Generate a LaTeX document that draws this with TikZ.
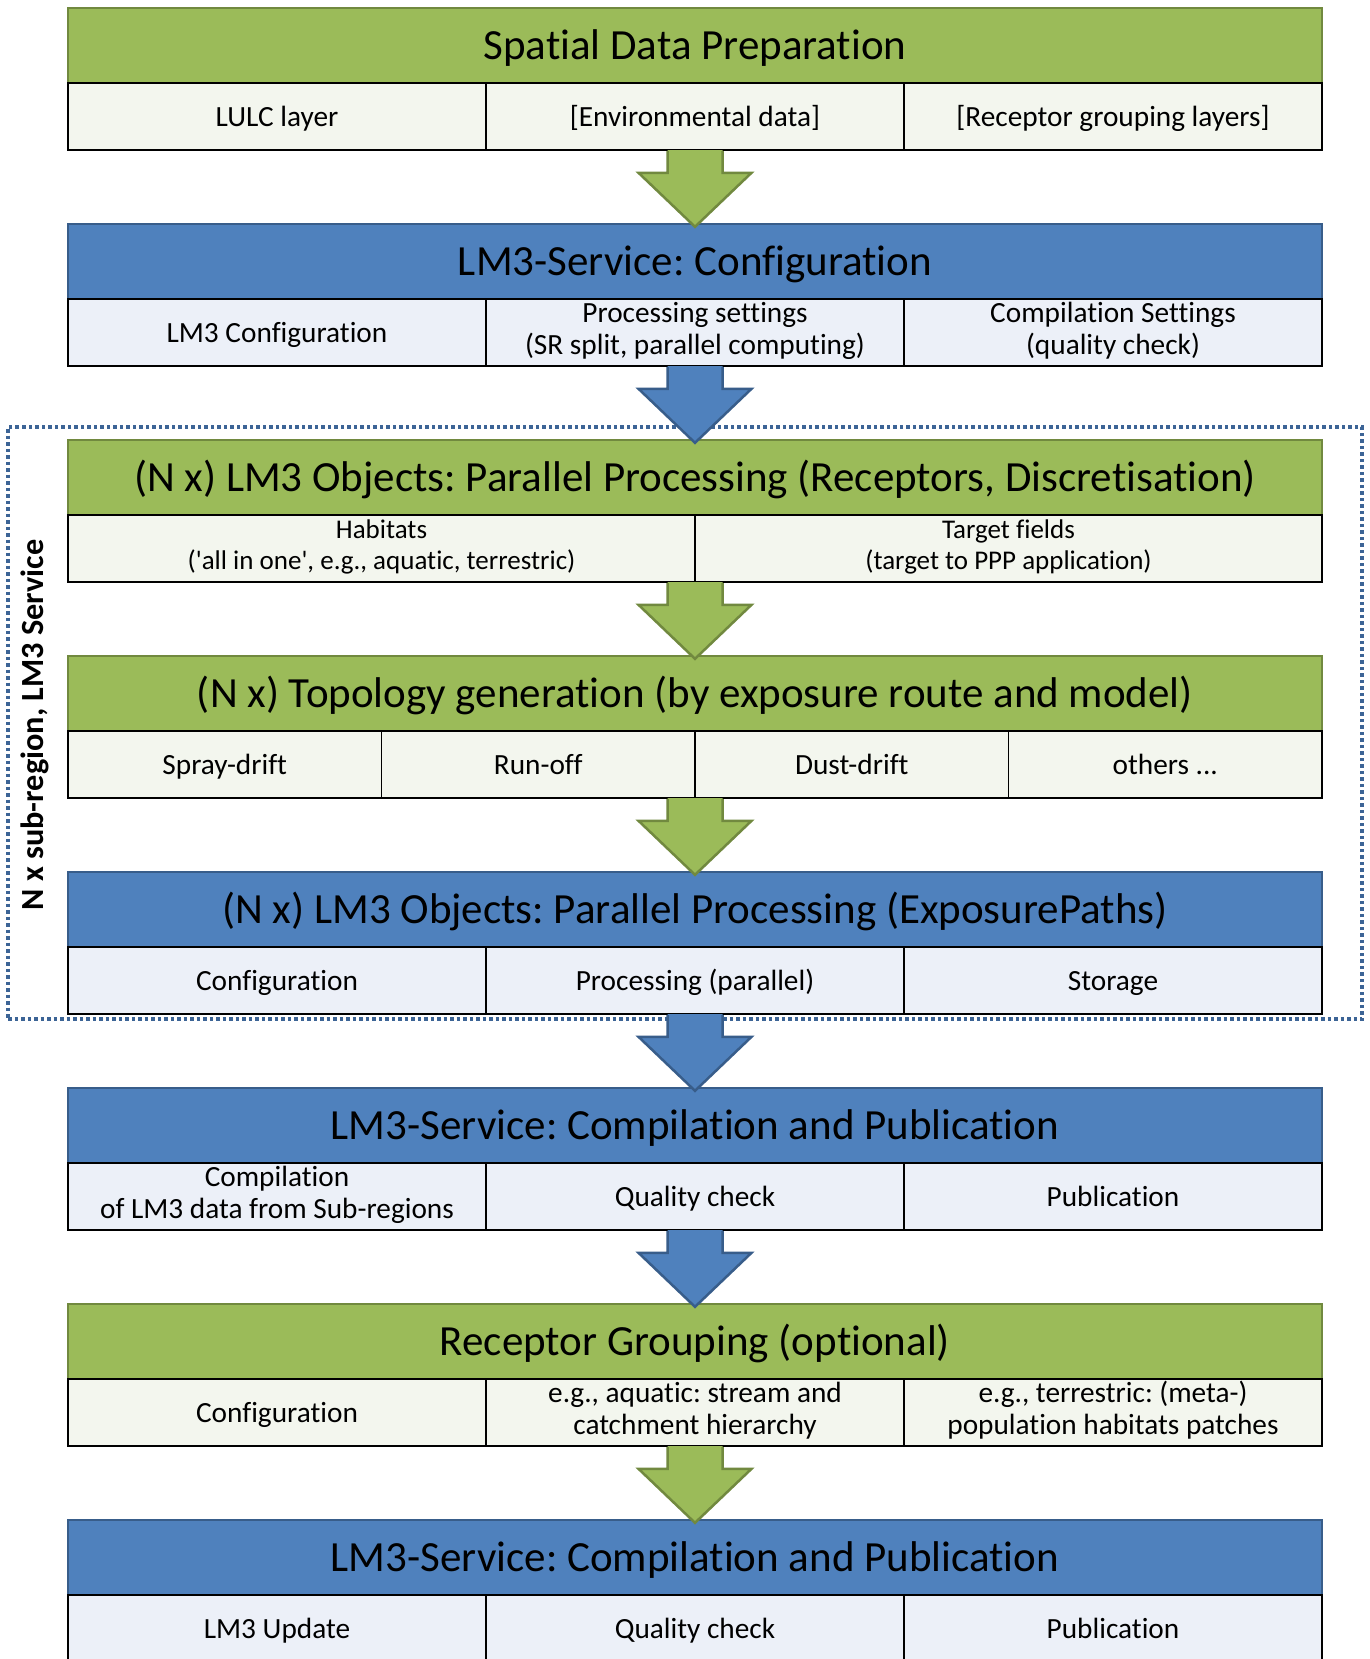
\documentclass[tikz,border=0pt]{standalone}
\usepackage{fontspec}
\setmainfont{Carlito}[Ligatures={NoCommon,TeXOff}]
\usetikzlibrary{calc}

\definecolor{grn}{HTML}{9BBB59}
\definecolor{grnline}{HTML}{71893F}
\definecolor{blu}{HTML}{4F81BD}
\definecolor{bluline}{HTML}{385D8A}
\definecolor{gcellfill}{HTML}{F3F6EE}
\definecolor{bcellfill}{HTML}{ECF0F8}
\definecolor{framecol}{HTML}{3C6496}

\newcommand\headsize{\fontsize{43}{49}\selectfont}
\newcommand\cellsize{\fontsize{29.3}{32}\selectfont}
\newcommand\smallcellsize{\fontsize{27}{30.5}\selectfont}
% strut reaching 0.3em below the baseline and 0.3em above the capitals,
% so that the capital letters sit centred in their box
\newcommand\capstrut{\rule[-0.3em]{0pt}{1.27em}}
% taller opening strut for two-line cells, which lowers the pair of lines
\newcommand\pairstrut{\rule[-0.3em]{0pt}{\dimexpr 1.27em+10pt\relax}}

% block arrow from the bottom of one block to the top of the next
\newcommand\flowarrow[4]{%
  \fill[#3] let \p1=(#1.south), \p2=(#2.north) in
    (\x1-27.5pt,\y1) -- (\x1-27.5pt,\y2+51pt) -- (\x1-56.5pt,\y2+51pt)
    -- (\x1,\y2-3pt) -- (\x1+56.5pt,\y2+51pt) -- (\x1+27.5pt,\y2+51pt)
    -- (\x1+27.5pt,\y1) -- cycle;
  \draw[#4, line width=2.5pt, line join=miter] let \p1=(#1.south), \p2=(#2.north) in
    (\x1-27.5pt,\y1-1pt) -- (\x1-27.5pt,\y2+51pt) -- (\x1-56.5pt,\y2+51pt)
    -- (\x1,\y2-3pt) -- (\x1+56.5pt,\y2+51pt) -- (\x1+27.5pt,\y2+51pt)
    -- (\x1+27.5pt,\y1-1pt);
}

\tikzset{
  blockframe/.style={minimum width=1254pt, minimum height=142pt, inner sep=0pt},
  head/.style={minimum width=1254pt, minimum height=75pt, inner sep=0pt,
    line width=2.5pt, font=\headsize\frenchspacing,
    execute at begin node=\capstrut, execute at end node=\capstrut},
  greenhead/.style={head, draw=grnline, fill=grn},
  bluehead/.style={head, draw=bluline, fill=blu},
  cell/.style={minimum height=67pt, inner sep=0pt, draw=black, line width=1.8pt,
    align=center, font=\cellsize\frenchspacing,
    execute at begin node=\capstrut, execute at end node=\capstrut},
  twoline/.style={execute at begin node=\pairstrut},
  gcell/.style={cell, fill=gcellfill},
  bcell/.style={cell, fill=bcellfill},
  third/.style={minimum width=418pt},
  half/.style={minimum width=627pt},
  quarter/.style={minimum width=313.5pt},
  subframe/.style={draw=framecol, line width=3.5pt, dash pattern=on 3.5pt off 3pt,
    minimum width=1354pt, minimum height=592pt, inner sep=0pt},
}

\begin{document}
\begin{tikzpicture}[x=1pt, y=-1pt]
\useasboundingbox (0,0) rectangle (1370,1659);
\clip (0,0) rectangle (1370,1659);
\fill[white] (0,0) rectangle (1370,1659);

% sub-region frame
\node[subframe] (subregion) at (685,723) {};
\node[rotate=90, font=\bfseries\fontsize{32.3}{36}\selectfont] (sidelabel) at (35,725)
  {N x sub-region, LM3 Service};

% block 1: spatial data preparation
\node[blockframe] (blk1) at (695,79) {};
\node[greenhead] (h1) at (695,45.5) {Spatial Data Preparation};
\node[gcell, third] (c11) at (277,116.5) {LULC layer};
\node[gcell, third] (c12) at (695,116.5) {[Environmental data]};
\node[gcell, third] (c13) at (1113,116.5) {[Receptor grouping layers]};

% block 2: configuration
\node[blockframe] (blk2) at (695,295) {};
\node[bluehead] (h2) at (695,261.5) {LM3-Service: Configuration};
\node[bcell, third] (c21) at (277,332.5) {LM3 Configuration};
\node[bcell, third, twoline] (c22) at (695,332.5) {Processing settings\\(SR split, parallel computing)};
\node[bcell, third, twoline] (c23) at (1113,332.5) {Compilation Settings\\(quality check)};

% block 3: receptors and discretisation
\node[blockframe] (blk3) at (695,511) {};
\node[greenhead] (h3) at (695,477.5) {(N x) LM3 Objects: Parallel Processing (Receptors, Discretisation)};
\node[gcell, half, twoline, font=\smallcellsize\frenchspacing] (c31) at (381.5,548.5) {Habitats\\('all in one', e.g., aquatic, terrestric)};
\node[gcell, half, twoline, font=\smallcellsize\frenchspacing] (c32) at (1008.5,548.5) {Target fields\\(target to PPP application)};

% block 4: topology generation
\node[blockframe] (blk4) at (695,727) {};
\node[greenhead] (h4) at (695,693.5) {(N x) Topology generation (by exposure route and model)};
\node[gcell, quarter] (c41) at (224.75,764.5) {Spray-drift};
\node[gcell, quarter] (c42) at (538.25,764.5) {Run-off};
\node[gcell, quarter] (c43) at (851.75,764.5) {Dust-drift};
\node[gcell, quarter] (c44) at (1165.25,764.5) {others ...};

% block 5: exposure paths
\node[blockframe] (blk5) at (695,943) {};
\node[bluehead] (h5) at (695,909.5) {(N x) LM3 Objects: Parallel Processing (ExposurePaths)};
\node[bcell, third] (c51) at (277,980.5) {Configuration};
\node[bcell, third] (c52) at (695,980.5) {Processing (parallel)};
\node[bcell, third] (c53) at (1113,980.5) {Storage};

% block 6: compilation and publication
\node[blockframe] (blk6) at (695,1159) {};
\node[bluehead] (h6) at (695,1125.5) {LM3-Service: Compilation and Publication};
\node[bcell, third, twoline] (c61) at (277,1196.5) {Compilation\\of LM3 data from Sub-regions};
\node[bcell, third] (c62) at (695,1196.5) {Quality check};
\node[bcell, third] (c63) at (1113,1196.5) {Publication};

% block 7: receptor grouping
\node[blockframe] (blk7) at (695,1375) {};
\node[greenhead] (h7) at (695,1341.5) {Receptor Grouping (optional)};
\node[gcell, third] (c71) at (277,1412.5) {Configuration};
\node[gcell, third, twoline] (c72) at (695,1412.5) {e.g., aquatic: stream and\\catchment hierarchy};
\node[gcell, third, twoline] (c73) at (1113,1412.5) {e.g., terrestric: (meta-)\\population habitats patches};

% block 8: final compilation and publication
\node[blockframe] (blk8) at (695,1591) {};
\node[bluehead] (h8) at (695,1557.5) {LM3-Service: Compilation and Publication};
\node[bcell, third] (c81) at (277,1628.5) {LM3 Update};
\node[bcell, third] (c82) at (695,1628.5) {Quality check};
\node[bcell, third] (c83) at (1113,1628.5) {Publication};

% flow arrows
\flowarrow{blk1}{blk2}{grn}{grnline}
\flowarrow{blk2}{blk3}{blu}{bluline}
\flowarrow{blk3}{blk4}{grn}{grnline}
\flowarrow{blk4}{blk5}{grn}{grnline}
\flowarrow{blk5}{blk6}{blu}{bluline}
\flowarrow{blk6}{blk7}{blu}{bluline}
\flowarrow{blk7}{blk8}{grn}{grnline}
\end{tikzpicture}
\end{document}
